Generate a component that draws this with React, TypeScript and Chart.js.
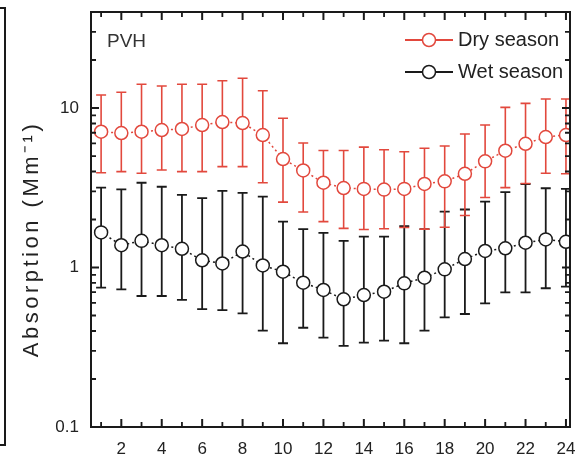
import React, { useEffect, useRef } from 'react';
import { Chart, registerables } from 'chart.js';

Chart.register(...registerables);

// ---- data ----
const hours = [1, 2, 3, 4, 5, 6, 7, 8, 9, 10, 11, 12, 13, 14, 15, 16, 17, 18, 19, 20, 21, 22, 23, 24];

const dryMean = [7.1, 6.97, 7.1, 7.28, 7.39, 7.82, 8.17, 8.05, 6.77, 4.79, 4.06, 3.4, 3.15, 3.11, 3.08, 3.11, 3.34, 3.47, 3.87, 4.63, 5.4, 5.97, 6.58, 6.77];
const dryUpper = [12.07, 12.55, 14.08, 13.74, 14.08, 14.08, 14.83, 15.36, 12.84, 8.62, 6.03, 5.41, 5.41, 5.69, 5.48, 5.32, 5.59, 5.78, 6.87, 7.82, 10.1, 10.7, 11.4, 11.4];
const dryLower = [3.93, 3.99, 3.9, 4.09, 3.99, 3.99, 4.29, 4.29, 3.4, 2.57, 2.23, 1.94, 1.76, 1.73, 1.75, 1.78, 1.74, 1.79, 2.12, 2.75, 3.17, 3.36, 3.9, 3.87];

const wetMean = [1.66, 1.38, 1.47, 1.38, 1.31, 1.11, 1.06, 1.26, 1.03, 0.941, 0.803, 0.723, 0.632, 0.672, 0.705, 0.796, 0.863, 0.974, 1.13, 1.27, 1.32, 1.43, 1.5, 1.45];
const wetUpper = [3.17, 3.09, 3.4, 3.21, 2.85, 2.72, 3.02, 2.94, 2.78, 1.94, 1.74, 1.65, 1.47, 1.56, 1.56, 1.82, 1.74, 2.24, 2.31, 2.59, 2.97, 3.34, 3.14, 3.11];
const wetLower = [0.747, 0.73, 0.663, 0.663, 0.626, 0.549, 0.541, 0.516, 0.402, 0.335, 0.419, 0.363, 0.323, 0.338, 0.348, 0.335, 0.402, 0.487, 0.511, 0.596, 0.699, 0.699, 0.741, 0.758];

const seriesLabels = ['Dry season', 'Wet season'];
const xTickLabels = [2, 4, 6, 8, 10, 12, 14, 16, 18, 20, 22, 24];
const xMinorTicks = [1, 3, 5, 7, 9, 11, 13, 15, 17, 19, 21, 23];
const yMajorTicks = [0.1, 1, 10];
const yMinorTicks = [0.2, 0.3, 0.4, 0.5, 0.6, 0.7, 0.8, 0.9, 2, 3, 4, 5, 6, 7, 8, 9, 20, 30];
const panelLabel = 'PVH';
const yTitle = 'Absorption (Mm\u207B\u00B9)';

const RED = '#e2483d';
const BLACK = '#1a1a1a';
const FONT = "'Liberation Sans', Arial, sans-serif";

const errorSets = [
  { low: dryLower, high: dryUpper, width: 1.6 },
  { low: wetLower, high: wetUpper, width: 1.8 },
];

const errorBarPlugin = {
  id: 'errorBars',
  beforeDatasetsDraw(chart: any) {
    const { ctx, scales } = chart;
    const x = scales.x, y = scales.y;
    const cap = 5;
    [1, 0].forEach((i) => {
      const ds = chart.data.datasets[i];
      const es = errorSets[i];
      ctx.save();
      ctx.strokeStyle = ds.borderColor;
      ctx.lineWidth = es.width;
      hours.forEach((h, j) => {
        const px = x.getPixelForValue(h);
        const lo = y.getPixelForValue(es.low[j]);
        const hi = y.getPixelForValue(es.high[j]);
        ctx.beginPath();
        ctx.moveTo(px, lo);
        ctx.lineTo(px, hi);
        ctx.moveTo(px - cap, lo);
        ctx.lineTo(px + cap, lo);
        ctx.moveTo(px - cap, hi);
        ctx.lineTo(px + cap, hi);
        ctx.stroke();
      });
      ctx.restore();
    });
  },
};

const framePlugin = {
  id: 'frame',
  afterDatasetsDraw(chart: any) {
    const { ctx, chartArea: a, scales } = chart;
    const x = scales.x, y = scales.y;
    ctx.save();
    ctx.strokeStyle = BLACK;
    ctx.lineWidth = 2;
    ctx.strokeRect(a.left, a.top, a.right - a.left, a.bottom - a.top);
    const tick = (list: number[], len: number, lw: number, axis: 'x' | 'y') => {
      ctx.lineWidth = lw;
      ctx.beginPath();
      list.forEach((v) => {
        if (axis === 'x') {
          const p = x.getPixelForValue(v);
          ctx.moveTo(p, a.bottom);
          ctx.lineTo(p, a.bottom - len);
          ctx.moveTo(p, a.top);
          ctx.lineTo(p, a.top + len);
        } else {
          const p = y.getPixelForValue(v);
          ctx.moveTo(a.left, p);
          ctx.lineTo(a.left + len, p);
          ctx.moveTo(a.right, p);
          ctx.lineTo(a.right - len, p);
        }
      });
      ctx.stroke();
    };
    tick(xTickLabels, 8, 2, 'x');
    tick(xMinorTicks, 5, 1.8, 'x');
    tick(yMajorTicks, 8, 2, 'y');
    tick(yMinorTicks, 5, 1.8, 'y');
    ctx.restore();
  },
};

const annotatePlugin = {
  id: 'annotate',
  afterDraw(chart: any) {
    const { ctx, chartArea: a } = chart;
    ctx.save();
    // legend
    chart.data.datasets.forEach((ds: any, i: number) => {
      const cy = a.top + 28 + i * 32;
      const x0 = a.right - 165;
      const x1 = a.right - 117;
      const cx = (x0 + x1) / 2;
      ctx.strokeStyle = ds.borderColor;
      ctx.lineWidth = 1.8;
      ctx.beginPath();
      ctx.moveTo(x0, cy);
      ctx.lineTo(x1, cy);
      ctx.stroke();
      ctx.beginPath();
      ctx.fillStyle = '#fff';
      ctx.lineWidth = 1.5;
      ctx.arc(cx, cy, 6.5, 0, Math.PI * 2);
      ctx.fill();
      ctx.stroke();
      ctx.fillStyle = '#222';
      ctx.font = `20px ${FONT}`;
      ctx.textBaseline = 'middle';
      ctx.textAlign = 'left';
      ctx.fillText(ds.label, x1 + 5, cy);
    });
    // panel label
    ctx.fillStyle = '#333';
    ctx.font = `19px ${FONT}`;
    ctx.textBaseline = 'middle';
    ctx.textAlign = 'left';
    ctx.fillText(panelLabel, a.left + 16, a.top + 30);
    // y title
    ctx.save();
    ctx.translate(32, 239);
    ctx.rotate(-Math.PI / 2);
    ctx.font = `22px ${FONT}`;
    (ctx as any).letterSpacing = '3.5px';
    ctx.textAlign = 'center';
    ctx.textBaseline = 'middle';
    ctx.fillStyle = '#222';
    ctx.fillText(yTitle, 0, 0);
    ctx.restore();
    // neighbouring panel edge (cropped)
    ctx.strokeStyle = BLACK;
    ctx.lineWidth = 2;
    ctx.beginPath();
    ctx.moveTo(0, 8);
    ctx.lineTo(5, 8);
    ctx.lineTo(5, 445);
    ctx.lineTo(0, 445);
    ctx.stroke();
    ctx.restore();
  },
};

export default function App() {
  const ref = useRef<HTMLCanvasElement | null>(null);
  useEffect(() => {
    if (!ref.current) return;
    Chart.defaults.font.family = FONT;
    const mk = (vals: number[]) => hours.map((h, i) => ({ x: h, y: vals[i] }));
    const chart = new Chart(ref.current, {
      type: 'line',
      data: {
        datasets: [
          {
            label: seriesLabels[0],
            data: mk(dryMean),
            borderColor: RED,
            borderWidth: 1.5,
            borderDash: [2, 3],
            pointRadius: 6.5,
            pointBorderWidth: 1.5,
            pointBackgroundColor: '#fff',
            pointBorderColor: RED,
            fill: false,
          },
          {
            label: seriesLabels[1],
            data: mk(wetMean),
            borderColor: BLACK,
            borderWidth: 1.5,
            borderDash: [2, 3],
            pointRadius: 6.5,
            pointBorderWidth: 1.5,
            pointBackgroundColor: '#fff',
            pointBorderColor: BLACK,
            fill: false,
          },
        ],
      },
      options: {
        responsive: false,
        animation: false,
        events: [],
        layout: { padding: { top: 12, right: 6, left: 0, bottom: 0 } },
        plugins: { legend: { display: false }, tooltip: { enabled: false } },
        scales: {
          x: {
            type: 'linear',
            min: 0.5,
            max: 24.2,
            grid: { display: false, drawTicks: false },
            border: { display: false },
            ticks: { color: '#222', font: { size: 17 }, padding: 12, autoSkip: false, maxRotation: 0 },
            afterBuildTicks: (s: any) => {
              s.ticks = xTickLabels.map((v) => ({ value: v }));
            },
            afterFit: (s: any) => {
              s.height = 35;
              s.paddingLeft = 0;
              s.paddingRight = 0;
            },
          },
          y: {
            type: 'logarithmic',
            min: 0.1,
            max: 40,
            grid: { display: false, drawTicks: false },
            border: { display: false },
            ticks: { color: '#222', font: { size: 17 }, padding: 12, callback: (v: any) => String(v) },
            afterBuildTicks: (s: any) => {
              s.ticks = yMajorTicks.map((v) => ({ value: v }));
            },
            afterFit: (s: any) => {
              s.width = 91;
              s.paddingTop = 0;
              s.paddingBottom = 0;
            },
          },
        },
      },
      plugins: [errorBarPlugin, framePlugin, annotatePlugin],
    } as any);
    return () => chart.destroy();
  }, []);
  return (
    <div style={{ position: 'absolute', left: 0, top: 0, width: 578, height: 462, background: '#fff' }}>
      <canvas ref={ref} width={578} height={462} style={{ display: 'block' }} />
    </div>
  );
}
